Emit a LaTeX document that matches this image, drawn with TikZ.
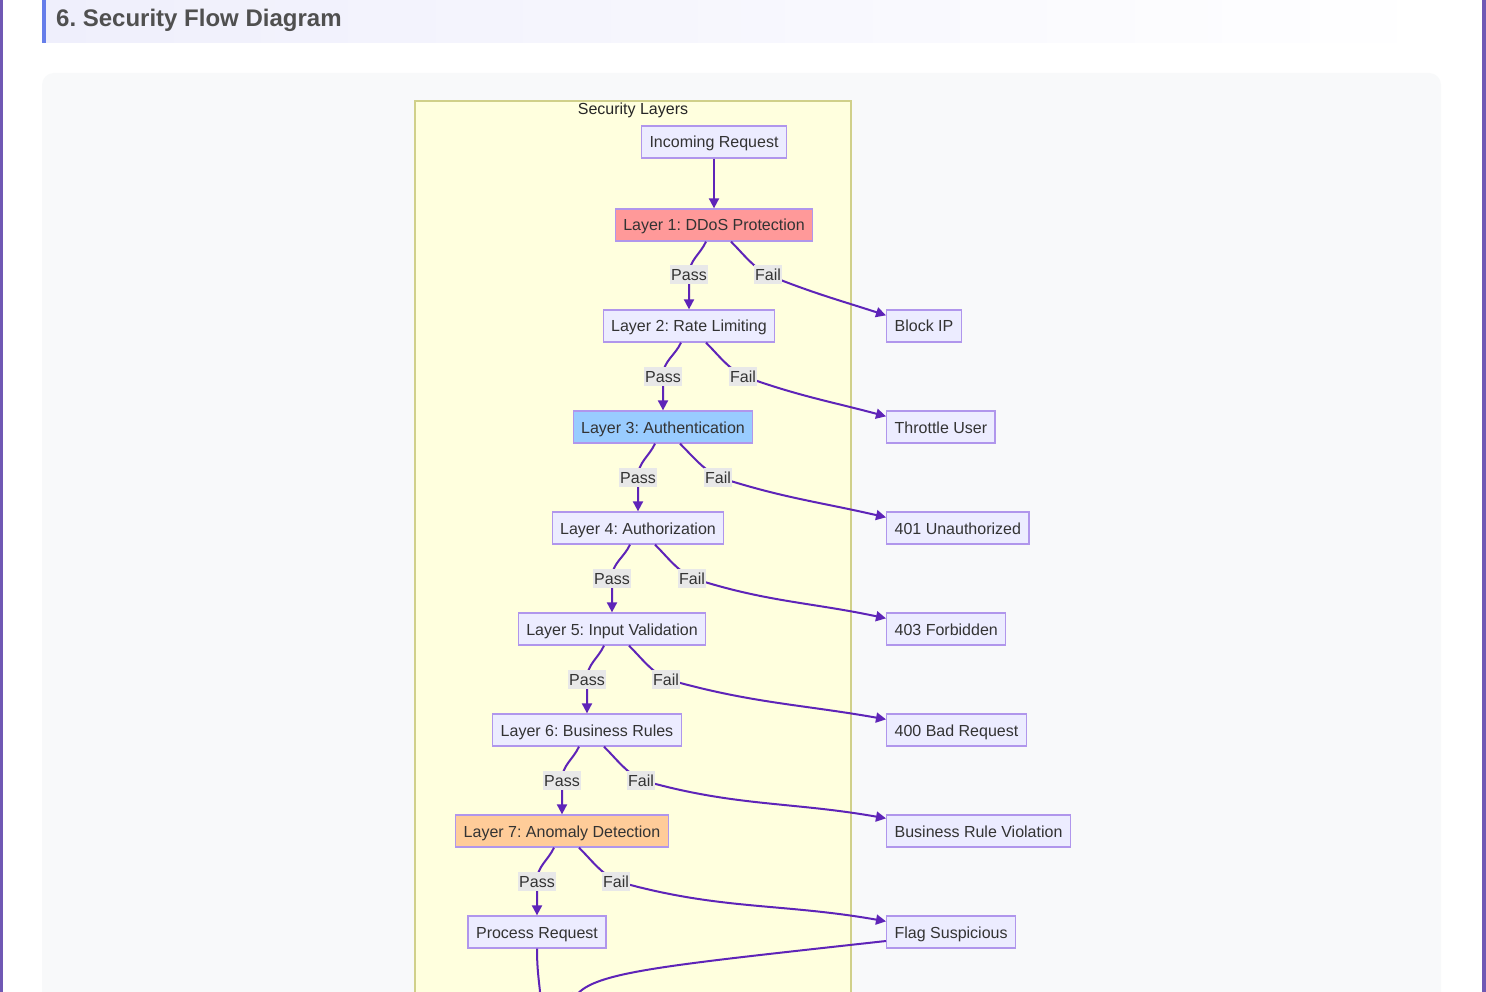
\documentclass[tikz,border=0pt]{standalone}
\usepackage{fontspec}
\setmainfont{Liberation Sans}
\usetikzlibrary{positioning, calc, arrows.meta}
\frenchspacing
\definecolor{pagebar}{RGB}{112,88,180}
\definecolor{accent}{RGB}{102,126,234}
\definecolor{hdrfill}{RGB}{239,239,252}
\definecolor{titlegray}{RGB}{80,80,80}
\definecolor{panelfill}{RGB}{248,249,250}
\definecolor{clusterfill}{RGB}{255,255,222}
\definecolor{clusterline}{RGB}{208,208,138}
\definecolor{nodefill}{RGB}{236,236,255}
\definecolor{nodeline}{RGB}{176,150,236}
\definecolor{edgecol}{RGB}{94,36,184}
\definecolor{lblfill}{RGB}{232,232,232}
\definecolor{txt}{RGB}{51,51,51}
\definecolor{redfill}{RGB}{255,153,153}
\definecolor{bluefill}{RGB}{153,204,255}
\definecolor{orangefill}{RGB}{255,204,153}

\begin{document}
\begin{tikzpicture}[x=1pt,y=-1pt,
        box/.style={draw=nodeline, fill=nodefill, line width=1.3pt, inner xsep=8pt, inner ysep=0pt,
            minimum height=32pt, text height=14pt, text depth=2pt, text=txt, font=\fontsize{16}{19}\selectfont},
        lbl/.style={fill=lblfill, inner xsep=1pt, inner ysep=0pt, text height=15.5pt, text depth=3.5pt,
            text=txt, font=\fontsize{16}{19}\selectfont},
        flow/.style={draw=edgecol, line width=2pt, -{Triangle[length=10pt,width=10pt]}}]
        \useasboundingbox (0,0) rectangle (1486,992);
        \clip (0,0) rectangle (1486,992);
        %sfondo pagina
            \fill[white] (0,0) rectangle (1486,992);
            \fill[pagebar] (0,0) rectangle (3,992);
            \fill[pagebar] (1482,0) rectangle (1486,992);
            \shade[left color=hdrfill, right color=white] (42,0) rectangle (1440,43);
            \fill[accent] (42,0) rectangle (46,43);
            \node[anchor=west, inner sep=0pt, text=titlegray, font=\bfseries\fontsize{24}{28}\selectfont] (title) at (56,20) {6. Security Flow Diagram};
            \fill[panelfill, rounded corners=12pt] (42,73) rectangle (1441,1040);
        %riquadro livelli
            \draw[fill=clusterfill, draw=clusterline, line width=1.3pt] (415,101) rectangle (851,1040);
            \node[text=black!85, inner sep=0pt, font=\fontsize{16}{19}\selectfont] (clab) at (633,110) {Security Layers};
        %nodi centrali
            \node[box] (inc) at (714,142) {Incoming Request};
            \node[box, fill=redfill] (l1) at (714,225) {Layer 1: DDoS Protection};
            \node[box] (l2) at (689,326) {Layer 2: Rate Limiting};
            \node[box, fill=bluefill] (l3) at (663,427) {Layer 3: Authentication};
            \node[box] (l4) at (638,528) {Layer 4: Authorization};
            \node[box] (l5) at (612,629) {Layer 5: Input Validation};
            \node[box] (l6) at (587,730) {Layer 6: Business Rules};
            \node[box, fill=orangefill] (l7) at (562,831) {Layer 7: Anomaly Detection};
            \node[box] (proc) at (537,932) {Process Request};
        %nodi di rifiuto
            \node[box, anchor=west] (blk) at (886,326) {Block IP};
            \node[box, anchor=west] (thr) at (886,427) {Throttle User};
            \node[box, anchor=west] (e401) at (886,528) {401 Unauthorized};
            \node[box, anchor=west] (e403) at (886,629) {403 Forbidden};
            \node[box, anchor=west] (e400) at (886,730) {400 Bad Request};
            \node[box, anchor=west] (brv) at (886,831) {Business Rule Violation};
            \node[box, anchor=west] (flag) at (886,932) {Flag Suspicious};
        %punti etichette
            \coordinate (p1) at (689,275); \coordinate (f1) at (768,275);
            \coordinate (p2) at (663,376); \coordinate (f2) at (743,376);
            \coordinate (p3) at (638,477); \coordinate (f3) at (718,477);
            \coordinate (p4) at (612,578); \coordinate (f4) at (692,578);
            \coordinate (p5) at (587,679); \coordinate (f5) at (666,679);
            \coordinate (p6) at (562,780); \coordinate (f6) at (641,780);
            \coordinate (p7) at (537,881); \coordinate (f7) at (616,881);
            \coordinate (nxtL) at (541,1003);
            \coordinate (nxtR) at (570,1003);
        %collegamenti
            \draw[flow] (inc) -- (l1);
            \draw[flow] ([xshift=-8pt]l1.south) to[out=-115,in=90] (p1) -- (l2.north);
            \draw[flow] ([xshift=17pt]l1.south) to[out=-45,in=150] (f1) to[out=-22,in=162] ([yshift=-6pt]blk.north west);
            \draw[flow] ([xshift=-8pt]l2.south) to[out=-115,in=90] (p2) -- (l3.north);
            \draw[flow] ([xshift=17pt]l2.south) to[out=-45,in=150] (f2) to[out=-20,in=165] ([yshift=-6pt]thr.north west);
            \draw[flow] ([xshift=-8pt]l3.south) to[out=-115,in=90] (p3) -- (l4.north);
            \draw[flow] ([xshift=17pt]l3.south) to[out=-45,in=150] (f3) to[out=-18,in=167] ([yshift=-6pt]e401.north west);
            \draw[flow] ([xshift=-8pt]l4.south) to[out=-115,in=90] (p4) -- (l5.north);
            \draw[flow] ([xshift=17pt]l4.south) to[out=-45,in=150] (f4) to[out=-18,in=168] ([yshift=-6pt]e403.north west);
            \draw[flow] ([xshift=-8pt]l5.south) to[out=-115,in=90] (p5) -- (l6.north);
            \draw[flow] ([xshift=17pt]l5.south) to[out=-45,in=150] (f5) to[out=-16,in=170] ([yshift=-6pt]e400.north west);
            \draw[flow] ([xshift=-8pt]l6.south) to[out=-115,in=90] (p6) -- (l7.north);
            \draw[flow] ([xshift=17pt]l6.south) to[out=-45,in=150] (f6) to[out=-16,in=170] ([yshift=-4pt]brv.north west);
            \draw[flow] ([xshift=-8pt]l7.south) to[out=-115,in=90] (p7) -- (proc.north);
            \draw[flow] ([xshift=17pt]l7.south) to[out=-45,in=150] (f7) to[out=-16,in=170] ([yshift=-6pt]flag.north west);
            \draw[flow] (proc.south) to[out=-90,in=95] (nxtL);
            \draw[flow] ([yshift=-9pt]flag.west) .. controls (660,966) and (595,972) .. (nxtR);
        %etichette
            \node[lbl] (lp1) at (p1) {Pass}; \node[lbl] (lf1) at (f1) {Fail};
            \node[lbl] (lp2) at (p2) {Pass}; \node[lbl] (lf2) at (f2) {Fail};
            \node[lbl] (lp3) at (p3) {Pass}; \node[lbl] (lf3) at (f3) {Fail};
            \node[lbl] (lp4) at (p4) {Pass}; \node[lbl] (lf4) at (f4) {Fail};
            \node[lbl] (lp5) at (p5) {Pass}; \node[lbl] (lf5) at (f5) {Fail};
            \node[lbl] (lp6) at (p6) {Pass}; \node[lbl] (lf6) at (f6) {Fail};
            \node[lbl] (lp7) at (p7) {Pass}; \node[lbl] (lf7) at (f7) {Fail};
    \end{tikzpicture}
\end{document}
